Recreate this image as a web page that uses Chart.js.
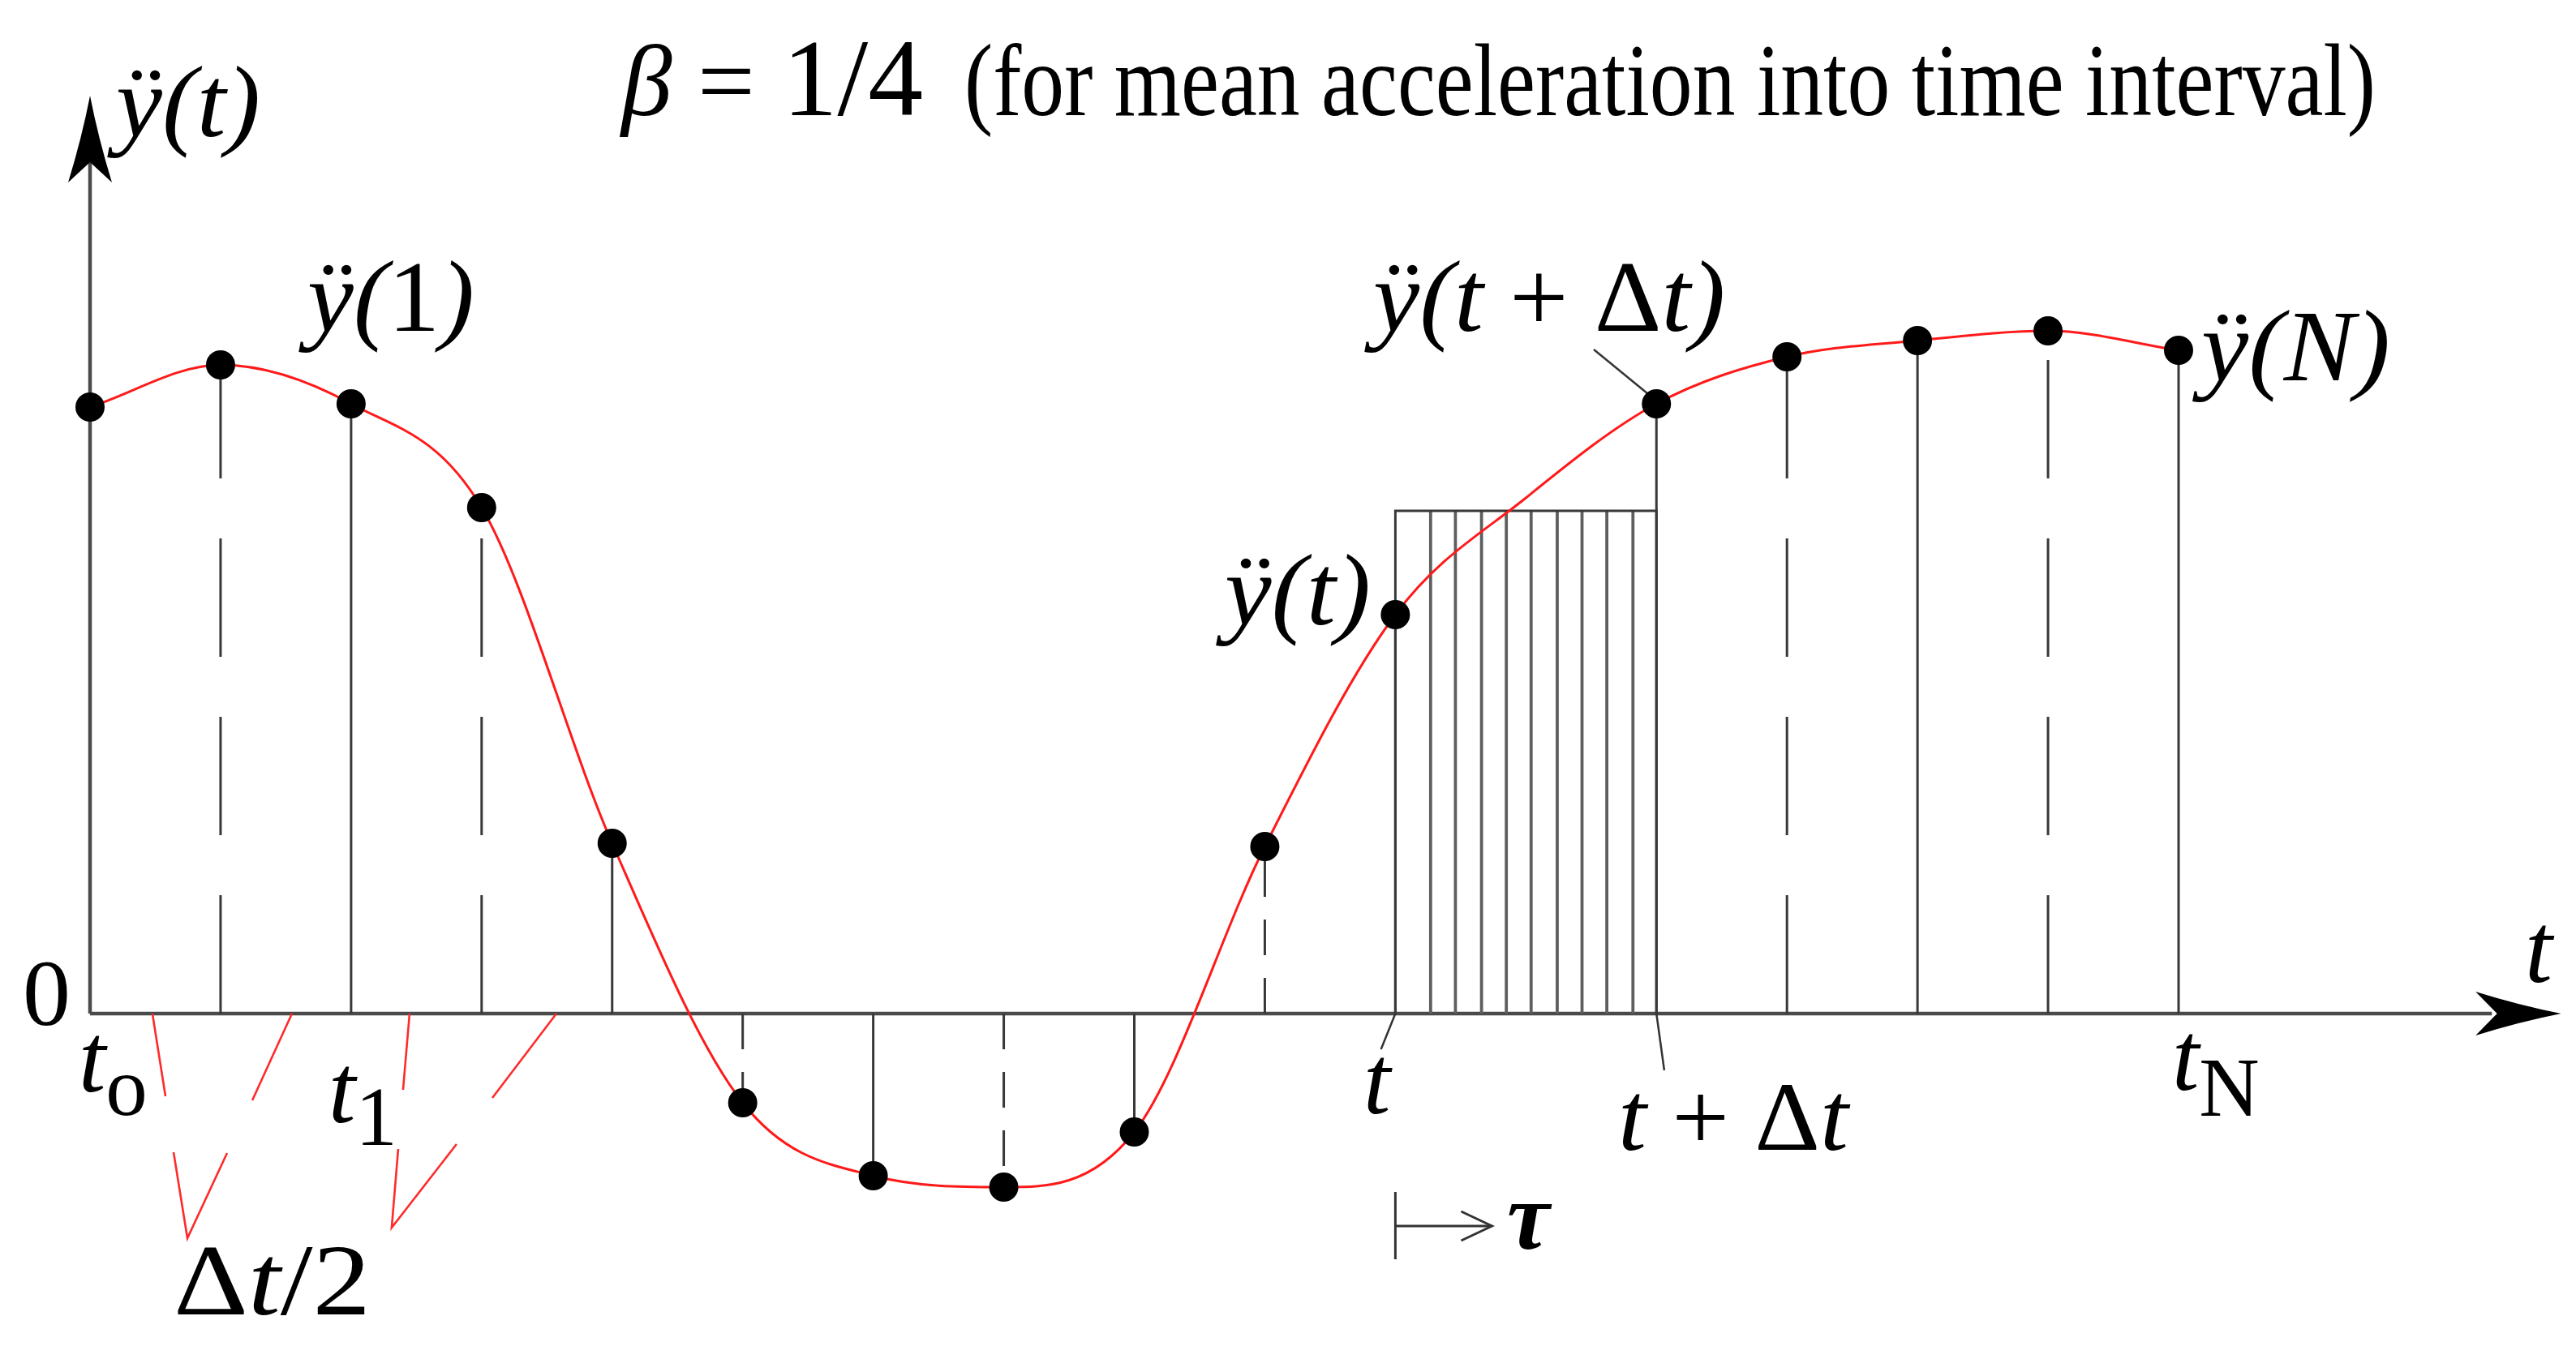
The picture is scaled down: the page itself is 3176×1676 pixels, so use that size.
<!DOCTYPE html>
<html><head><meta charset="utf-8">
<script src="https://cdn.jsdelivr.net/npm/chart.js@4.4.1/dist/chart.umd.min.js"></script>
<style>html,body{margin:0;padding:0;background:#fff;}#wrap{width:3176px;height:1676px;}</style>
</head><body><div id="wrap"><canvas id="c" width="3176" height="1676"></canvas></div>
<script>
// Time axis measured in half-steps (Δt/2): 0 = t0, 2 = t1, 10 = t, 12 = t+Δt, 16 = tN
const halfSteps = [0,1,2,3,4,5,6,7,8,9,10,11,12,13,14,15,16];
// acceleration ÿ read at every half-step (value at 11 lies inside the interval, unmarked)
const acceleration = [3.74, 4.00, 3.76, 3.12, 1.05, -0.55, -1.00, -1.07, -0.73, 1.03, 2.46, 3.18, 3.76, 4.05, 4.15, 4.21, 4.09];
// half-steps that carry a sample marker
const markedSteps = [0,1,2,3,4,5,6,7,8,9,10,12,13,14,15,16];
// interval [t, t+Δt] and the mean acceleration (β = 1/4)
const intervalStart = 10;
const intervalEnd = 12;
const meanAcceleration = 3.10;
// τ subdivisions drawn inside the interval
const tauLines = [10.27, 10.46, 10.66, 10.85, 11.04, 11.24, 11.43, 11.62, 11.82];
// red Δt/2 marker strokes [x0, y0, x1, y1, (x2, y2)]
const halfStepMarks = [
  [0.478, 0, 0.578, -0.51],
  [1.547, 0, 1.243, -0.535],
  [2.448, 0, 2.398, -0.47],
  [3.573, 0, 3.082, -0.52],
  [0.640, -0.855, 0.746, -1.385, 1.050, -0.86],
  [2.361, -0.835, 2.311, -1.32, 2.808, -0.805]
];

const accAt = s => acceleration[halfSteps.indexOf(s)];
const datasets = [];
// markers (top)
datasets.push({type:'scatter', data: markedSteps.map(s => ({x:s, y:accAt(s)})),
  pointRadius:18, pointHoverRadius:18, backgroundColor:'#000', borderWidth:0, order:0, clip:false});
// red curve
datasets.push({type:'line', data: halfSteps.map((s,i)=>({x:s, y:acceleration[i]})),
  borderColor:'#ff1a1a', borderWidth:3, pointRadius:0, cubicInterpolationMode:'monotone', fill:false, order:1, clip:false});
// stems
markedSteps.forEach(s => {
  if (s === 0) return;
  const v = accAt(s);
  const dashed = s % 2 === 1;
  const dash = dashed ? (Math.abs(v) > 1.5 ? [146, 74] : [44, 28]) : [];
  datasets.push({type:'line', data:[{x:s,y:0},{x:s,y:v}], borderColor:'#383838', borderWidth:3,
    borderDash:dash, pointRadius:0, tension:0, order:3, clip:false});
});
// interval rectangle
datasets.push({type:'line', data:[{x:intervalStart,y:0},{x:intervalStart,y:meanAcceleration},{x:intervalEnd,y:meanAcceleration},{x:intervalEnd,y:0}],
  borderColor:'#383838', borderWidth:3, pointRadius:0, tension:0, order:3, clip:false});
tauLines.forEach(s => {
  datasets.push({type:'line', data:[{x:s,y:0},{x:s,y:meanAcceleration}], borderColor:'#5e5e5e', borderWidth:3.8,
    pointRadius:0, tension:0, order:4, clip:false});
});

const SERIF = '"Liberation Serif","Times New Roman","DejaVu Serif",serif';
function fontOf(r, size){ return (r.b?'bold ':'') + (r.it?'italic ':'') + Math.round(size*(r.s||1)) + 'px ' + SERIF; }
function drawRuns(ctx, runs, x, y, size, targetW){
  let total = 0;
  const ws = runs.map(r => { ctx.font = fontOf(r,size); const w = ctx.measureText(r.t).width; total += w + (r.gap||0)*size; return w; });
  const sx = targetW ? targetW/total : 1;
  ctx.save(); ctx.translate(x,y); ctx.scale(sx,1);
  let cx = 0;
  runs.forEach((r,i) => { ctx.font = fontOf(r,size); ctx.fillText(r.t, cx, (r.dy||0)*size); cx += ws[i] + (r.gap||0)*size; });
  ctx.restore();
}

const diagram = {
  id:'diagram',
  beforeDatasetsDraw(chart){
    const ctx = chart.ctx, X = chart.scales.x, Y = chart.scales.y;
    const px = v => X.getPixelForValue(v), py = v => Y.getPixelForValue(v);
    const x0 = px(0), y0 = py(0);
    ctx.save();
    ctx.lineCap = 'butt';
    // axes
    ctx.strokeStyle = '#4a4a4a'; ctx.lineWidth = 4.5;
    ctx.beginPath(); ctx.moveTo(x0, y0); ctx.lineTo(x0, py(5.3)); ctx.stroke();
    ctx.beginPath(); ctx.moveTo(x0, y0); ctx.lineTo(px(18.4), y0); ctx.stroke();
    ctx.fillStyle = '#000';
    // y arrow
    const tipY = py(5.66), barbY = py(5.145), notchY = py(5.25);
    ctx.beginPath(); ctx.moveTo(x0, tipY);
    ctx.quadraticCurveTo(x0+10, (tipY+barbY)/2, x0+27, barbY+4);
    ctx.lineTo(x0, notchY);
    ctx.lineTo(x0-27, barbY+4);
    ctx.quadraticCurveTo(x0-10, (tipY+barbY)/2, x0, tipY);
    ctx.fill();
    // x arrow
    const tipX = px(18.93), barbX = px(18.30), notchX = px(18.44);
    ctx.beginPath(); ctx.moveTo(tipX, y0);
    ctx.quadraticCurveTo((tipX+barbX)/2, y0-10, barbX-4, y0-27);
    ctx.lineTo(notchX, y0);
    ctx.lineTo(barbX-4, y0+27);
    ctx.quadraticCurveTo((tipX+barbX)/2, y0+10, tipX, y0);
    ctx.fill();
    // small ticks at t and t+Δt
    ctx.strokeStyle = '#333'; ctx.lineWidth = 2.5;
    ctx.beginPath(); ctx.moveTo(px(intervalStart), y0); ctx.lineTo(px(9.89), py(-0.22)); ctx.stroke();
    ctx.beginPath(); ctx.moveTo(px(intervalEnd), y0); ctx.lineTo(px(12.06), py(-0.35)); ctx.stroke();
    // leader for ÿ(t+Δt)
    ctx.beginPath(); ctx.moveTo(px(11.52), py(4.095)); ctx.lineTo(px(11.937), py(3.82)); ctx.stroke();
    // τ arrow
    ctx.strokeStyle = '#333'; ctx.lineWidth = 3;
    ctx.beginPath(); ctx.moveTo(px(intervalStart), py(-1.10)); ctx.lineTo(px(intervalStart), py(-1.515)); ctx.stroke();
    const ay = py(-1.31), ax1 = px(10.74);
    ctx.beginPath(); ctx.moveTo(px(intervalStart), ay); ctx.lineTo(ax1, ay); ctx.stroke();
    ctx.beginPath(); ctx.moveTo(ax1-38, ay-18); ctx.lineTo(ax1, ay); ctx.lineTo(ax1-38, ay+18); ctx.stroke();
    // red Δt/2 marks
    ctx.strokeStyle = '#ff2a2a'; ctx.lineWidth = 2.6;
    halfStepMarks.forEach(m => {
      ctx.beginPath(); ctx.moveTo(px(m[0]), py(m[1]));
      for (let k = 2; k < m.length; k += 2) ctx.lineTo(px(m[k]), py(m[k+1]));
      ctx.stroke();
    });
    ctx.restore();
  },
  afterDatasetsDraw(chart){
    const ctx = chart.ctx, X = chart.scales.x, Y = chart.scales.y;
    const px = v => X.getPixelForValue(v), py = v => Y.getPixelForValue(v);
    ctx.save();
    ctx.fillStyle = '#000'; ctx.textBaseline = 'alphabetic'; ctx.textAlign = 'left';
    // title
    drawRuns(ctx, [{t:'β', it:true},{t:' = ', gap:0.02},{t:'1/4', s:1.08}], px(4.07), py(5.54), 125, 372);
    drawRuns(ctx, [{t:'(for mean acceleration into time interval)'}], px(6.698), py(5.54), 128, 1740);
    // y labels
    drawRuns(ctx, [{t:'ÿ', it:true},{t:'(t)', it:true}], px(0.199), py(5.41), 124, 178);
    drawRuns(ctx, [{t:'ÿ', it:true},{t:'(', it:true},{t:'1'},{t:')', it:true}], px(1.665), py(4.21), 124, 206);
    drawRuns(ctx, [{t:'ÿ(t', it:true},{t:' + Δ'},{t:'t)', it:true}], px(9.83), py(4.21), 124, 434);
    drawRuns(ctx, [{t:'ÿ(N)', it:true}], px(16.174), py(3.905), 124, 233);
    drawRuns(ctx, [{t:'ÿ(t)', it:true}], px(8.693), py(2.40), 124, 180);
    // axis labels
    drawRuns(ctx, [{t:'0'}], px(-0.516), py(-0.07), 116, 59);
    drawRuns(ctx, [{t:'t', it:true}], px(18.653), py(0.195), 122);
    drawRuns(ctx, [{t:'t', it:true},{t:'o', s:0.86, dy:0.24}], px(-0.087), py(-0.48), 120);
    drawRuns(ctx, [{t:'t', it:true},{t:'1', s:0.86, dy:0.23}], px(1.827), py(-0.67), 120);
    drawRuns(ctx, [{t:'t', it:true}], px(9.755), py(-0.615), 120);
    drawRuns(ctx, [{t:'t', it:true},{t:' + Δ'},{t:'t', it:true}], px(11.706), py(-0.84), 120, 284);
    drawRuns(ctx, [{t:'t', it:true},{t:'N', s:0.86, dy:0.27}], px(15.95), py(-0.47), 120);
    drawRuns(ctx, [{t:'τ', it:true, b:true}], px(10.855), py(-1.45), 118);
    drawRuns(ctx, [{t:'Δ'},{t:'t', it:true},{t:'/2'}], px(0.640), py(-1.855), 125, 243);
    ctx.restore();
  }
};

new Chart(document.getElementById('c'), {
  data: { datasets },
  options: {
    responsive:false, animation:false, devicePixelRatio:1,
    layout:{ padding:{ left:111, right:490, top:150, bottom:126 } },
    plugins:{ legend:{display:false}, tooltip:{enabled:false} },
    events: [],
    scales:{
      x:{ type:'linear', min:0, max:16, display:false },
      y:{ type:'linear', min:-1.5, max:5.5, display:false }
    }
  },
  plugins:[diagram]
});
</script></body></html>
